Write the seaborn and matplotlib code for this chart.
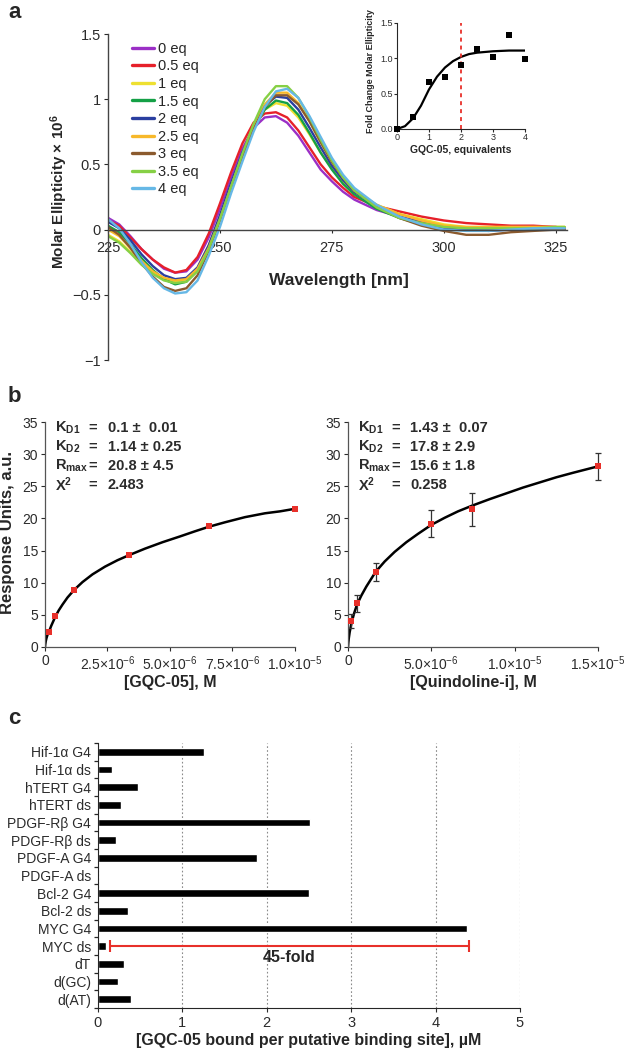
import numpy as np
import pandas as pd
import matplotlib
matplotlib.use("Agg")
import matplotlib.pyplot as plt
import seaborn as sns

# ---------------- panel a: CD spectra ----------------
wavelength = [225, 227.5, 230, 232.5, 235, 237.5, 240, 242.5, 245, 247.5, 250, 252.5,
              255, 257.5, 260, 262.5, 265, 267.5, 270, 272.5, 275, 277.5, 280, 285,
              290, 295, 300, 305, 310, 315, 320, 325, 327]

cd_0eq = [0.09, 0.04, -0.05, -0.15, -0.23, -0.30, -0.33, -0.32, -0.23, -0.06, 0.16, 0.40,
          0.62, 0.78, 0.86, 0.87, 0.82, 0.72, 0.59, 0.46, 0.37, 0.29, 0.23, 0.15,
          0.10, 0.06, 0.03, 0.01, 0.00, 0.01, 0.02, 0.02, 0.01]
cd_05eq = [0.07, 0.03, -0.06, -0.15, -0.23, -0.29, -0.33, -0.31, -0.21, -0.03, 0.20, 0.44,
           0.66, 0.82, 0.89, 0.90, 0.86, 0.76, 0.63, 0.50, 0.40, 0.32, 0.25, 0.18,
           0.14, 0.10, 0.07, 0.05, 0.04, 0.03, 0.03, 0.02, 0.01]
cd_1eq = [-0.04, -0.09, -0.17, -0.26, -0.33, -0.38, -0.40, -0.38, -0.29, -0.12, 0.10, 0.35,
          0.58, 0.78, 0.92, 0.97, 0.95, 0.86, 0.73, 0.59, 0.47, 0.37, 0.29, 0.19,
          0.12, 0.08, 0.04, 0.02, 0.02, 0.02, 0.02, 0.02, 0.02]
cd_15eq = [0.03, -0.02, -0.11, -0.22, -0.31, -0.38, -0.42, -0.40, -0.31, -0.13, 0.09, 0.34,
           0.57, 0.77, 0.92, 0.99, 0.97, 0.88, 0.74, 0.59, 0.46, 0.35, 0.27, 0.16,
           0.09, 0.04, 0.01, 0.01, 0.01, 0.01, 0.01, 0.01, 0.01]
cd_2eq = [0.06, 0.01, -0.08, -0.19, -0.28, -0.35, -0.38, -0.37, -0.29, -0.12, 0.11, 0.36,
          0.59, 0.79, 0.95, 1.02, 1.01, 0.92, 0.78, 0.63, 0.49, 0.38, 0.29, 0.18,
          0.10, 0.05, 0.01, 0.00, -0.01, 0.00, 0.01, 0.01, 0.01]
cd_25eq = [0.00, -0.05, -0.14, -0.24, -0.32, -0.37, -0.39, -0.38, -0.30, -0.14, 0.08, 0.33,
           0.57, 0.78, 0.96, 1.05, 1.05, 0.97, 0.83, 0.67, 0.52, 0.40, 0.30, 0.19,
           0.12, 0.07, 0.03, 0.02, 0.02, 0.02, 0.02, 0.02, 0.02]
cd_3eq = [0.02, -0.04, -0.14, -0.26, -0.36, -0.44, -0.47, -0.45, -0.35, -0.16, 0.07, 0.32,
          0.56, 0.77, 0.94, 1.03, 1.03, 0.96, 0.83, 0.67, 0.52, 0.40, 0.30, 0.18,
          0.09, 0.03, -0.01, -0.04, -0.04, -0.02, -0.01, 0.00, 0.00]
cd_35eq = [-0.05, -0.10, -0.18, -0.27, -0.34, -0.39, -0.41, -0.40, -0.32, -0.15, 0.08, 0.33,
           0.58, 0.81, 1.00, 1.10, 1.10, 1.01, 0.86, 0.69, 0.53, 0.40, 0.30, 0.17,
           0.09, 0.05, 0.02, 0.01, 0.01, 0.01, 0.01, 0.02, 0.02]
cd_4eq = [0.08, 0.01, -0.11, -0.25, -0.37, -0.45, -0.49, -0.48, -0.39, -0.20, 0.02, 0.28,
          0.52, 0.75, 0.94, 1.06, 1.08, 1.01, 0.87, 0.71, 0.55, 0.42, 0.32, 0.19,
          0.10, 0.04, 0.00, -0.01, -0.01, 0.00, 0.01, 0.01, 0.01]

cd_labels = ["0 eq", "0.5 eq", "1 eq", "1.5 eq", "2 eq", "2.5 eq", "3 eq", "3.5 eq", "4 eq"]
cd_series = [cd_0eq, cd_05eq, cd_1eq, cd_15eq, cd_2eq, cd_25eq, cd_3eq, cd_35eq, cd_4eq]
cd_colors = ["#9b2fc6", "#e6202a", "#eee030", "#14a046", "#2a3fa0",
             "#f7b82a", "#8b5a2e", "#86d045", "#66b8e6"]

# inset: fold change vs equivalents
inset_eq = [0, 0.5, 1, 1.5, 2, 2.5, 3, 3.5, 4]
inset_fold = [0.0, 0.17, 0.66, 0.74, 0.90, 1.13, 1.02, 1.33, 0.99]
inset_fit_x = [0, 0.25, 0.5, 0.75, 1.0, 1.25, 1.5, 1.75, 2.0, 2.25, 2.5, 3.0, 3.5, 4.0]
inset_fit_y = [0, 0.04, 0.15, 0.33, 0.56, 0.74, 0.87, 0.96, 1.02, 1.06, 1.08, 1.10, 1.11, 1.11]
inset_cut = 2

# ---------------- panel b: SPR binding ----------------
gqc_conc = [1.7e-7, 4.1e-7, 1.17e-6, 3.37e-6, 6.55e-6, 1.0e-5]
gqc_resp = [2.3, 4.8, 8.9, 14.3, 18.8, 21.5]
gqc_fit_conc = [0, 1e-8, 3e-8, 6e-8, 1e-7, 1.7e-7, 2.5e-7, 3.3e-7, 4.1e-7, 5.5e-7, 7e-7,
                9e-7, 1.17e-6, 1.5e-6, 1.9e-6, 2.4e-6, 2.9e-6, 3.37e-6, 4.0e-6, 4.7e-6,
                5.4e-6, 6.0e-6, 6.55e-6, 7.2e-6, 8.0e-6, 8.8e-6, 9.4e-6, 1.0e-5]
gqc_fit_resp = [0, 0.4, 0.9, 1.4, 1.9, 2.5, 3.3, 4.0, 4.7, 5.7, 6.6, 7.7, 8.9, 10.1, 11.3,
                12.5, 13.5, 14.3, 15.3, 16.3, 17.2, 18.0, 18.7, 19.4, 20.2, 20.8, 21.1, 21.5]

qui_conc = [2e-7, 5.4e-7, 1.66e-6, 5.0e-6, 7.46e-6, 1.5e-5]
qui_resp = [4.0, 6.8, 11.7, 19.2, 21.4, 28.1]
qui_err = [1.1, 1.3, 1.4, 2.1, 2.5, 2.1]
qui_fit_conc = [0, 2e-8, 5e-8, 1e-7, 2e-7, 3.5e-7, 5.4e-7, 8e-7, 1.1e-6, 1.66e-6, 2.2e-6,
                2.8e-6, 3.5e-6, 4.2e-6, 5.0e-6, 5.8e-6, 6.6e-6, 7.46e-6, 8.5e-6, 9.5e-6,
                1.05e-5, 1.15e-5, 1.25e-5, 1.35e-5, 1.5e-5]
qui_fit_resp = [0, 0.7, 1.4, 2.3, 3.6, 5.1, 6.6, 8.0, 9.4, 11.7, 13.3, 14.8, 16.3, 17.6,
                19.0, 20.1, 21.1, 22.0, 23.0, 23.9, 24.8, 25.6, 26.4, 27.1, 28.1]

gqc_params = [("K$_{\\mathbf{D1}}$", "0.1 \u00b1  0.01"), ("K$_{\\mathbf{D2}}$", "1.14 \u00b1 0.25"),
              ("R$_{\\mathbf{max}}$", "20.8 \u00b1 4.5"), ("\u03a7$^{\\mathbf{2}}$", "2.483")]
qui_params = [("K$_{\\mathbf{D1}}$", "1.43 \u00b1  0.07"), ("K$_{\\mathbf{D2}}$", "17.8 \u00b1 2.9"),
              ("R$_{\\mathbf{max}}$", "15.6 \u00b1 1.8"), ("\u03a7$^{\\mathbf{2}}$", "0.258")]

gqc_ticks = [0, 2.5e-6, 5.0e-6, 7.5e-6, 1.0e-5]
gqc_ticklabels = ["0", "2.5\u00d710$^{-6}$", "5.0\u00d710$^{-6}$", "7.5\u00d710$^{-6}$", "1.0\u00d710$^{-5}$"]
qui_ticks = [0, 5.0e-6, 1.0e-5, 1.5e-5]
qui_ticklabels = ["0", "5.0\u00d710$^{-6}$", "1.0\u00d710$^{-5}$", "1.5\u00d710$^{-5}$"]

# ---------------- panel c: binding per site ----------------
site_labels = ["Hif-1\u03b1 G4", "Hif-1\u03b1 ds", "hTERT G4", "hTERT ds", "PDGF-R\u03b2 G4",
               "PDGF-R\u03b2 ds", "PDGF-A G4", "PDGF-A ds", "Bcl-2 G4", "Bcl-2 ds",
               "MYC G4", "MYC ds", "dT", "d(GC)", "d(AT)"]
site_values = [1.26, 0.17, 0.47, 0.27, 2.51, 0.21, 1.88, 0.0, 2.50, 0.35,
               4.37, 0.10, 0.31, 0.24, 0.39]
fold_span = [0.14, 4.39]
fold_text = "45-fold"

# ---------------- figure ----------------
sns.set_style("ticks")
plt.rcParams["font.family"] = ["Liberation Sans", "DejaVu Sans"]
plt.rcParams["mathtext.fontset"] = "custom"
plt.rcParams["mathtext.rm"] = "Liberation Sans"
plt.rcParams["mathtext.bf"] = "Liberation Sans:bold"
plt.rcParams["mathtext.it"] = "Liberation Sans:italic"

W, H = 624, 1050
INK = "#2b2b2b"
RED = "#e8302a"


def box(left, top, right, bottom):
    return [left / W, 1 - bottom / H, (right - left) / W, (bottom - top) / H]


fig = plt.figure(figsize=(W / 100, H / 100), dpi=100)

# panel a
ax_a = fig.add_axes(box(108, 34, 567, 360))
rows = []
for lab, vals in zip(cd_labels, cd_series):
    for w, v in zip(wavelength, vals):
        rows.append((lab, w, v))
cd_df = pd.DataFrame(rows, columns=["eq", "wl", "ellip"])
sns.lineplot(data=cd_df, x="wl", y="ellip", hue="eq", hue_order=cd_labels,
             palette=dict(zip(cd_labels, cd_colors)), lw=1.7, sort=False, ax=ax_a)
sns.move_legend(ax_a, "upper left", bbox_to_anchor=(0.052, 0.976), frameon=False, title=None,
                fontsize=10.5, handlelength=1.5, handletextpad=0.3, labelspacing=0.245,
                borderpad=0, borderaxespad=0)
for h in ax_a.legend_.legend_handles:
    h.set_linewidth(2.4)

ax_a.set_xlim(225, 327.5)
ax_a.set_ylim(-1, 1.5)
ax_a.spines["bottom"].set_position(("data", 0))
ax_a.spines["top"].set_visible(False)
ax_a.spines["right"].set_visible(False)
for s in ["left", "bottom"]:
    ax_a.spines[s].set_color("#444444")
    ax_a.spines[s].set_linewidth(1.0)
ax_a.set_xticks([225, 250, 275, 300, 325])
ax_a.set_yticks([-1, -0.5, 0, 0.5, 1, 1.5], ["\u22121", "\u22120.5", "0", "0.5", "1", "1.5"])
ax_a.tick_params(axis="x", length=2.5, pad=6, labelsize=10.5, colors=INK)
ax_a.tick_params(axis="y", length=3, pad=2, labelsize=10.5, colors=INK)
ax_a.set_xlabel("")
ax_a.set_ylabel("Molar Ellipticity \u00d7 10$^{\\mathbf{6}}$", fontsize=11, fontweight="bold")
ax_a.yaxis.set_label_coords(-0.083, 0.515)
ax_a.text(0.503, 0.245, "Wavelength [nm]", transform=ax_a.transAxes, ha="center", va="center",
          fontsize=12.5, fontweight="bold")

# inset
ax_in = fig.add_axes(box(397, 23, 525, 129))
sns.lineplot(x=inset_fit_x, y=inset_fit_y, color="black", lw=1.6, ax=ax_in)
sns.scatterplot(x=inset_eq, y=inset_fold, marker="s", color="black", s=14, linewidth=0,
                clip_on=False, zorder=3, ax=ax_in)
ax_in.axvline(inset_cut, color=RED, lw=1.3, ls=(0, (2.2, 2.2)))
ax_in.set_xlim(0, 4)
ax_in.set_ylim(0, 1.5)
ax_in.set_xticks([0, 1, 2, 3, 4])
ax_in.set_yticks([0, 0.5, 1.0, 1.5])
ax_in.spines["top"].set_visible(False)
ax_in.spines["right"].set_visible(False)
for s in ["left", "bottom"]:
    ax_in.spines[s].set_linewidth(0.8)
ax_in.tick_params(length=2, pad=1, labelsize=6.5, width=0.8, colors=INK)
ax_in.set_xlabel("GQC-05, equivalents", fontsize=7.5, fontweight="bold")
ax_in.set_ylabel("Fold Change Molar Ellipticity", fontsize=6.5, fontweight="bold")
ax_in.xaxis.set_label_coords(0.5, -0.15)
ax_in.yaxis.set_label_coords(-0.17, 0.55)

# panel b
ax_b1 = fig.add_axes(box(45, 422, 295, 647))
ax_b2 = fig.add_axes(box(348, 422, 598, 647))

sns.lineplot(x=gqc_fit_conc, y=gqc_fit_resp, color="black", lw=1.8, ax=ax_b1)
sns.scatterplot(x=gqc_conc, y=gqc_resp, marker="s", color=RED, s=16, linewidth=0,
                zorder=3, clip_on=False, ax=ax_b1)

sns.lineplot(x=qui_fit_conc, y=qui_fit_resp, color="black", lw=1.8, ax=ax_b2)
ax_b2.errorbar(qui_conc, qui_resp, yerr=qui_err, fmt="none", ecolor="#333333",
               elinewidth=0.9, capsize=2.5, capthick=0.9, zorder=2, clip_on=False)
sns.scatterplot(x=qui_conc, y=qui_resp, marker="s", color=RED, s=16, linewidth=0,
                zorder=3, clip_on=False, ax=ax_b2)

for ax, ticks, labels, xlab, params in [
        (ax_b1, gqc_ticks, gqc_ticklabels, "[GQC-05], M", gqc_params),
        (ax_b2, qui_ticks, qui_ticklabels, "[Quindoline-i], M", qui_params)]:
    ax.set_xlim(0, ticks[-1])
    ax.set_ylim(0, 35)
    ax.set_xticks(ticks, labels)
    ax.set_yticks(range(0, 36, 5))
    ax.spines["top"].set_visible(False)
    ax.spines["right"].set_visible(False)
    for s in ["left", "bottom"]:
        ax.spines[s].set_color("#555555")
        ax.spines[s].set_linewidth(0.9)
    ax.tick_params(length=3, pad=2, labelsize=10, colors=INK)
    ax.set_xlabel(xlab, fontsize=11.5, fontweight="bold")
    ax.xaxis.set_label_coords(0.5, -0.125)
    for i, (name, val) in enumerate(params):
        yy = 0.973 - i * 0.0845
        ax.text(0.04, yy, name, transform=ax.transAxes, fontsize=10.5, fontweight="bold",
                color=INK, va="center")
        ax.text(0.172, yy, "=", transform=ax.transAxes, fontsize=10.5, fontweight="bold",
                color=INK, va="center")
        ax.text(0.25, yy, val, transform=ax.transAxes, fontsize=10.5, fontweight="bold",
                color=INK, va="center")

ax_b1.set_ylabel("Response Units, a.u.", fontsize=12, fontweight="bold")
ax_b1.yaxis.set_label_coords(-0.12, 0.51)

# panel c
ax_c = fig.add_axes(box(98, 743, 520, 1008))
sns.barplot(x=site_values, y=site_labels, orient="h", color="black", saturation=1,
            width=0.42, ax=ax_c)
ax_c.set_xlim(0, 5)
ax_c.set_ylim(len(site_labels) - 0.5, -0.5)
ax_c.set_axisbelow(True)
ax_c.xaxis.grid(True, ls=(0, (1.5, 2)), color="#8a8a8a", lw=0.8)
ax_c.spines["top"].set_visible(False)
ax_c.spines["right"].set_visible(False)
ax_c.set_xticks(range(0, 6))
ax_c.set_yticks(np.arange(-0.5, len(site_labels), 1), minor=True)
ax_c.tick_params(axis="y", which="major", length=0, pad=5, labelsize=10, colors=INK)
ax_c.tick_params(axis="y", which="minor", length=3, width=0.9)
ax_c.tick_params(axis="x", length=3, pad=3, labelsize=10.5, colors=INK)
ax_c.set_ylabel("")
ax_c.set_xlabel("[GQC-05 bound per putative binding site], \u00b5M", fontsize=11.5,
                fontweight="bold")
ax_c.xaxis.set_label_coords(0.5, -0.095)

myc_row = site_labels.index("MYC ds")
ax_c.plot(fold_span, [myc_row, myc_row], color=RED, lw=1.5, marker="|", ms=8, mew=1.5)
ax_c.text(np.mean(fold_span), myc_row + 0.62, fold_text, ha="center", va="center",
          fontsize=11.5, fontweight="bold")

# panel letters
for letter, ypx in [("a", 12), ("b", 397), ("c", 718)]:
    fig.text(8 / W, 1 - ypx / H, letter, fontsize=16, fontweight="bold", va="center")

fig.savefig("out.png", dpi=100)
